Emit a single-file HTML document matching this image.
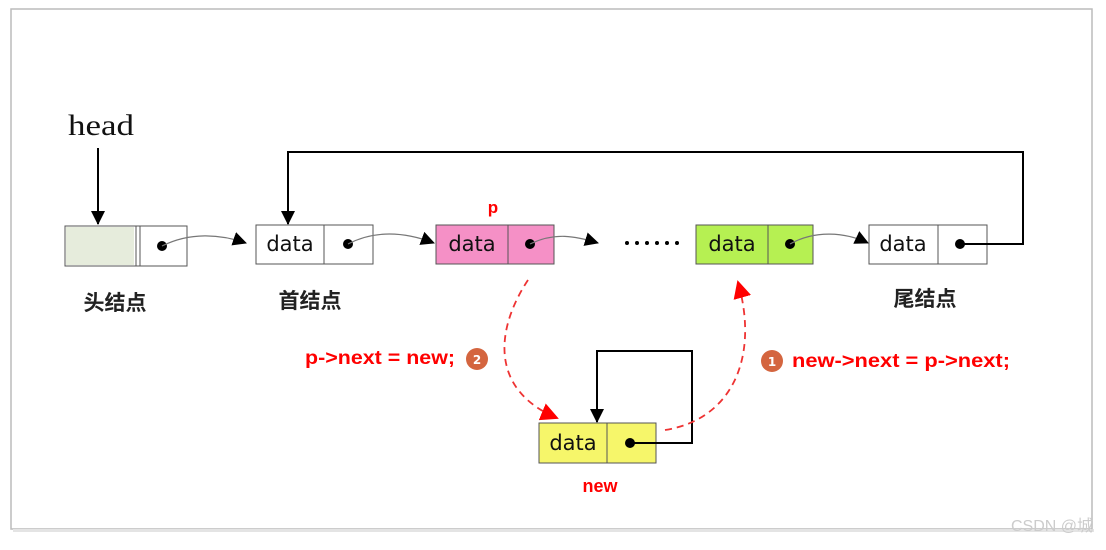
<!DOCTYPE html>
<html><head><meta charset="utf-8"><style>
body{margin:0;background:#fff;width:1106px;height:545px;overflow:hidden}
</style></head><body>
<svg width="1106" height="545" xmlns="http://www.w3.org/2000/svg" font-family="'DejaVu Sans','Liberation Sans',sans-serif">
<defs>
<marker id="ab" markerWidth="14" markerHeight="14" refX="13" refY="7" orient="auto" markerUnits="userSpaceOnUse" viewBox="0 0 14 14"><path d="M0,0L14,7L0,14z" fill="#000"/></marker>
<marker id="ar" markerWidth="18" markerHeight="18" refX="16" refY="9" orient="auto" markerUnits="userSpaceOnUse" viewBox="0 0 18 18"><path d="M0,0L18,9L0,18z" fill="#f00"/></marker>
</defs>
<rect x="11" y="9" width="1081" height="520" fill="#fff" stroke="#bbb" stroke-width="1.5"/>
<rect x="13" y="529" width="1081" height="3" fill="#e4e4e4"/>
<text x="68" y="135" font-family="'Liberation Serif',serif" font-size="30" fill="#111" textLength="66" lengthAdjust="spacingAndGlyphs">head</text>
<line x1="98" y1="148" x2="98" y2="224" stroke="#000" stroke-width="2" marker-end="url(#ab)"/>
<g stroke="#555" stroke-width="1">
<rect x="65" y="226" width="122" height="40" fill="#fff"/>
<rect x="66" y="227" width="68" height="38" fill="#e6ecdc" stroke="none"/>
<line x1="136" y1="226" x2="136" y2="266"/><line x1="140" y1="226" x2="140" y2="266"/>
<rect x="256" y="225" width="117" height="39" fill="#fff"/><line x1="324" y1="225" x2="324" y2="264"/>
<rect x="436" y="225" width="118" height="39" fill="#f590c6"/><line x1="508" y1="225" x2="508" y2="264"/>
<rect x="696" y="225" width="117" height="39" fill="#b6f052"/><line x1="768" y1="225" x2="768" y2="264"/>
<rect x="869" y="225" width="118" height="39" fill="#fff"/><line x1="938" y1="225" x2="938" y2="264"/>
<rect x="539" y="423" width="117" height="40" fill="#f6f66a"/><line x1="607" y1="423" x2="607" y2="463"/>
</g>
<g font-size="21" fill="#111" text-anchor="middle">
<text x="290" y="251">data</text><text x="472" y="251">data</text><text x="732" y="251">data</text><text x="903" y="251">data</text><text x="573" y="450">data</text>
</g>
<g fill="#000">
<circle cx="162" cy="246" r="5"/><circle cx="348" cy="244" r="5"/><circle cx="530" cy="244" r="5"/><circle cx="790" cy="244" r="5"/><circle cx="960" cy="244" r="5"/><circle cx="630" cy="443" r="5"/>
</g>
<g fill="none" stroke="#777" stroke-width="1.2">
<path d="M162,246 C190,232 220,234 246,243" marker-end="url(#ab)"/>
<path d="M348,244 C375,230 405,232 434,243" marker-end="url(#ab)"/>
<path d="M530,244 C555,232 575,236 598,243" marker-end="url(#ab)"/>
<path d="M790,244 C815,230 845,232 868,243" marker-end="url(#ab)"/>
</g>
<g fill="#000"><circle cx="627" cy="243" r="2"/><circle cx="637" cy="243" r="2"/><circle cx="647" cy="243" r="2"/><circle cx="657" cy="243" r="2"/><circle cx="667" cy="243" r="2"/><circle cx="677" cy="243" r="2"/></g>
<path d="M960,244H1023V152H288V224" fill="none" stroke="#000" stroke-width="2" marker-end="url(#ab)"/>
<path d="M630,443H692V351H597V422" fill="none" stroke="#000" stroke-width="2" marker-end="url(#ab)"/>
<g fill="none" stroke="#e33" stroke-width="1.8" stroke-dasharray="7,5">
<path d="M528,280 C495,330 490,390 557,418" marker-end="url(#ar)"/>
<path d="M665,430 C730,420 760,360 738,282" marker-end="url(#ar)"/>
</g>
<g font-family="'Liberation Sans','Noto Sans CJK SC',sans-serif" font-weight="bold">
<text x="115" y="310" font-size="21" text-anchor="middle" fill="#222">头结点</text>
<text x="310" y="308" font-size="21" text-anchor="middle" fill="#222">首结点</text>
<text x="925" y="306" font-size="21" text-anchor="middle" fill="#222">尾结点</text>
<text x="493" y="213" font-size="17" text-anchor="middle" fill="#f00">p</text>
<text x="305" y="364" font-size="19" fill="#f00" textLength="150" lengthAdjust="spacingAndGlyphs">p-&gt;next = new;</text>
<text x="792" y="367" font-size="19" fill="#f00" textLength="218" lengthAdjust="spacingAndGlyphs">new-&gt;next = p-&gt;next;</text>
<text x="600" y="492" font-size="18" text-anchor="middle" fill="#f00">new</text>
</g>
<circle cx="477" cy="359" r="11" fill="#d4653f"/><text x="477" y="364" font-size="12" font-weight="bold" fill="#fff" text-anchor="middle">2</text>
<circle cx="772" cy="361" r="11" fill="#d4653f"/><text x="772" y="366" font-size="12" font-weight="bold" fill="#fff" text-anchor="middle">1</text>
<text x="1093" y="531" font-size="16" fill="#ccc" text-anchor="end" font-family="'Liberation Sans','Noto Sans CJK SC',sans-serif">CSDN @城</text>
</svg>
</body></html>
